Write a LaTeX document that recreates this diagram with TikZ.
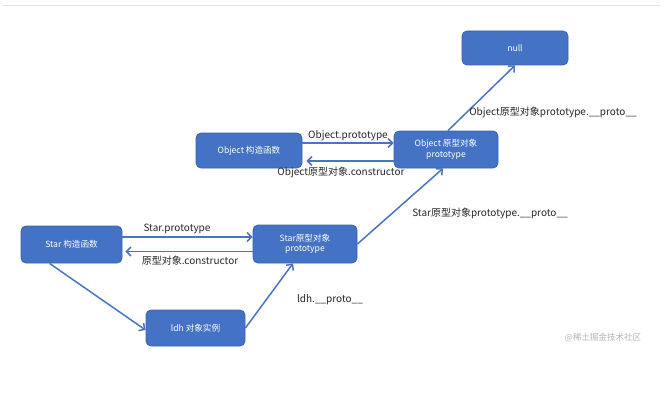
\documentclass[tikz,border=0pt]{standalone}
\usepackage{fontspec}
\setmainfont{Noto Sans CJK SC}
\usetikzlibrary{arrows.meta}
\definecolor{boxblue}{HTML}{4472C4}
\definecolor{boxedge}{HTML}{3A63AE}
\definecolor{arrblue}{HTML}{4A74C0}
\begin{document}
\begin{tikzpicture}[x=1pt,y=-1pt,
  box/.style={draw=boxedge, fill=boxblue, rounded corners=5pt, line width=0.8pt,
    text=white, font=\fontsize{8.6}{10.5}\selectfont, align=center, inner sep=0pt},
  conn/.style={draw=arrblue, line width=1.5pt, -{Straight Barb[length=4.5pt,width=9pt,line width=1.5pt]}},
  lbl/.style={font=\fontsize{10}{12}\selectfont, text=black!85, inner sep=0pt}]
\useasboundingbox (0,0) rectangle (664,412);
\draw[black!10, line width=1pt] (3,6) -- (660,6);
% nodes
\node[box, minimum width=106pt, minimum height=34pt] (null) at (515,48) {null};
\node[box, minimum width=106pt, minimum height=35pt] (octor) at (249,150.5) {Object 构造函数};
\node[box, minimum width=104pt, minimum height=37pt] (oproto) at (446,149.5) {Object 原型对象\\prototype};
\node[box, minimum width=101pt, minimum height=37pt] (sctor) at (71.5,244.5) {Star 构造函数};
\node[box, minimum width=104pt, minimum height=38pt] (sproto) at (305,244) {Star原型对象\\prototype};
\node[box, minimum width=99pt, minimum height=36pt] (ldh) at (195.5,328) {ldh 对象实例};
% connectors
\draw[conn] (octor.east |- 0,143) -- (oproto.west |- 0,143);
\draw[conn] (oproto.west |- 0,161) -- ([xshift=4pt]octor.east |- 0,161);
\draw[conn] (sctor.east |- 0,237) -- (sproto.west |- 0,237);
\draw[conn] (sproto.west |- 0,251.5) -- ([xshift=3pt]sctor.east |- 0,251.5);
\draw[conn] ([xshift=-22pt]sctor.south) -- ([yshift=-2pt]ldh.west);
\draw[conn] (ldh.east) -- ([xshift=-12pt]sproto.south);
\draw[conn] (sproto.east) -- ([xshift=-3pt]oproto.south);
\draw[conn] ([xshift=2pt]oproto.north) -- (null.south);
% labels
\node[lbl] (l1) at (348,136) {Object.prototype};
\node[lbl] (l2) at (341,172.5) {Object原型对象.constructor};
\node[lbl] (l3) at (177,228.5) {Star.prototype};
\node[lbl] (l4) at (190,261) {原型对象.constructor};
\node[lbl] (l5) at (330,300) {ldh.\_\_proto\_\_};
\node[lbl] (l6) at (490,213) {Star原型对象prototype.\_\_proto\_\_};
\node[lbl] (l7) at (553,112) {Object原型对象prototype.\_\_proto\_\_};
\node[font=\fontsize{8.5}{10}\selectfont, text=black!30, inner sep=0pt] (wm) at (603,338) {@稀土掘金技术社区};
\end{tikzpicture}
\end{document}
